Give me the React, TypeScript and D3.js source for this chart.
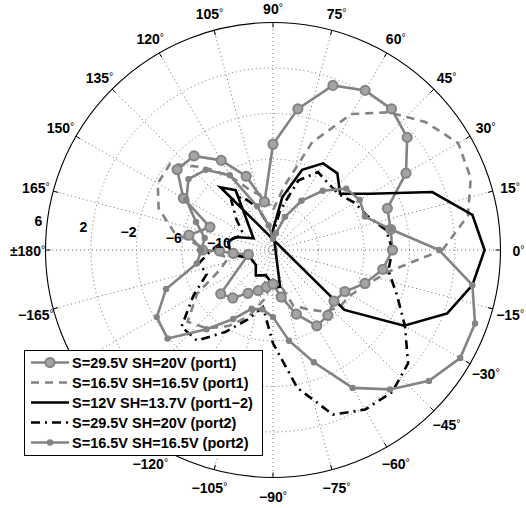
import React from "react";
import * as d3 from "d3";

// Canvas and polar frame
const W = 526;
const H = 508;
const CX = 273;
const CY = 250;
const R = 227.5;

// Radial axis (dB) — centre of the plot sits at -14 dB
const rDomain: [number, number] = [-14, 6];
const ringValues = [-10, -6, -2, 2, 6];
const ringLabels = ["−10", "−6", "−2", "2", "6"];

// Angular axis
const spokeAngles = [0, 15, 30, 45, 60, 75, 90, 105, 120, 135, 150, 165, 180, 195, 210, 225, 240, 255, 270, 285, 300, 315, 330, 345];
const spokeLabels = ["0", "15", "30", "45", "60", "75", "90", "105", "120", "135", "150", "165", "±180", "−165", "−150", "−135", "−120", "−105", "−90", "−75", "−60", "−45", "−30", "−15"];

// S=29.5V SH=20V (port1)
const s1Ang = [0, 10, 20, 30, 40, 50, 60, 70, 80, 90, 100, 110, 120, 130, 140, 150, 160, 170, 180, 181, 185, 190, 220, 230, 240, 250, 260, 270, 280, 290, 300, 310, 320, 330, 340, 350];
const s1Db = [-3.5, -3.5, -3.3, -0.5, 1.4, 2.2, 2.2, 1.4, -1.4, -4.7, -9.7, -7.1, -4.9, -3.2, -3.0, -4.9, -8.1, -6.5, -7.8, -9.3, -10.5, -11.8, -8.0, -8.5, -9.6, -10.2, -10.7, -11.0, -9.8, -8.0, -6.3, -6.5, -7.0, -6.7, -5.4, -4.2];

// S=16.5V SH=16.5V (port1)
const s2Ang = [0, 10, 20, 30, 40, 50, 60, 70, 80, 90, 100, 110, 120, 130, 140, 150, 160, 170, 180, 190, 200, 210, 220, 230, 240, 250, 260, 270, 280, 290, 300, 310, 320, 330, 340, 350];
const s2Db = [0.9, 3.4, 4.5, 4.8, 3.5, 1.8, -0.2, -3.9, -8.3, -10.5, -9.2, -8.5, -6.5, -4.5, -2.2, -2.3, -3.3, -5.2, -8.2, -10.0, -9.1, -6.3, -4.2, -5.0, -6.3, -7.8, -9.6, -11.4, -11.1, -8.8, -8.0, -6.9, -6.3, -6.1, -5.2, -3.5];

// S=12V SH=13.7V (port1-2)
const s3Ang = [0, 10, 20, 30, 40, 50, 60, 70, 80, 90, 284, 281, 273, 254, 236, 221, 199, 187, 170, 161, 149, 122, 130, 320, 330, 340, 350];
const s3Db = [4.6, 3.8, 0.9, -4.1, -6.3, -5.2, -5.2, -6.5, -9.3, -12.2, -12.2, -10.7, -10.7, -11.7, -11.3, -12.0, -11.9, -10.3, -10.0, -10.5, -12.0, -7.8, -6.8, -5.8, -0.7, 2.3, 3.8];

// S=29.5V SH=20V (port2)
const s4Ang = [0, 10, 20, 30, 40, 50, 60, 70, 80, 90, 100, 110, 120, 130, 140, 150, 160, 170, 180, 190, 200, 210, 220, 230, 240, 250, 260, 270, 280, 290, 300, 310, 320, 330, 340, 350];
const s4Db = [-3.5, -3.9, -5.2, -5.7, -6.4, -6.4, -6.1, -7.5, -10.5, -12.7, -11.8, -10.0, -8.6, -8.3, -9.8, -10.9, -10.7, -9.6, -8.6, -7.4, -7.8, -5.9, -3.5, -3.6, -5.7, -7.5, -8.9, -5.8, -1.7, 1.4, 2.2, 2.3, 1.5, -0.6, -2.4, -3.7];

// S=16.5V SH=16.5V (port2)
const s5Ang = [0, 10, 20, 30, 40, 50, 60, 70, 80, 90, 100, 110, 120, 130, 140, 150, 160, 170, 180, 190, 200, 210, 220, 230, 240, 250, 260, 270, 280, 290, 300, 310, 320, 330, 340, 350];
const s5Db = [0.6, -3.5, -5.4, -5.2, -5.6, -7.2, -9.0, -10.9, -12.5, -13.0, -11.8, -9.9, -6.4, -4.8, -4.3, -5.2, -6.8, -7.9, -7.7, -7.2, -4.0, -2.2, -1.9, -4.9, -7.0, -8.5, -8.7, -8.1, -5.9, -3.5, 0.0, 2.0, 3.9, 5.0, 4.9, 3.8];

const seriesNames = [
  "S=29.5V SH=20V (port1)",
  "S=16.5V SH=16.5V (port1)",
  "S=12V SH=13.7V (port1−2)",
  "S=29.5V SH=20V (port2)",
  "S=16.5V SH=16.5V (port2)",
];

const GRAY = "#838383";
const FONT = "Liberation Sans, Arial, sans-serif";

// Legend box (page pixels)
const LEG = { x: 24.5, y: 350.5, w: 238, h: 105 };

type Style = { color: string; dash?: string; marker?: "ring" | "dot" };
const styles: Style[] = [
  { color: GRAY, marker: "ring" },
  { color: GRAY, dash: "8,6" },
  { color: "#000" },
  { color: "#000", dash: "9,5,2,5" },
  { color: GRAY, marker: "dot" },
];

const seriesData: [number, number][][] = [
  s1Ang.map((a, i) => [a, s1Db[i]] as [number, number]),
  s2Ang.map((a, i) => [a, s2Db[i]] as [number, number]),
  s3Ang.map((a, i) => [a, s3Db[i]] as [number, number]),
  s4Ang.map((a, i) => [a, s4Db[i]] as [number, number]),
  s5Ang.map((a, i) => [a, s5Db[i]] as [number, number]),
];

const rScale = d3.scaleLinear().domain(rDomain).range([0, R]);
// math angle (deg, counter-clockwise from east) -> d3 radial angle (rad, clockwise from north)
const toRad = (deg: number) => ((90 - deg) * Math.PI) / 180;

const lineGen = d3
  .lineRadial<[number, number]>()
  .angle((d) => toRad(d[0]))
  .radius((d) => rScale(d[1]))
  .curve(d3.curveLinearClosed);

function Marker({ kind, x, y, color }: { kind: "ring" | "dot"; x: number; y: number; color: string }) {
  if (kind === "ring") {
    return <circle cx={x} cy={y} r={4.6} fill="#a4a4a4" stroke={color} strokeWidth={2} />;
  }
  return <circle cx={x} cy={y} r={3.2} fill={color} stroke="none" />;
}

// angle labels that sit beneath the legend box are covered by it
const underLegend = (x: number, y: number) =>
  x + CX > LEG.x - 10 && x + CX < LEG.x + LEG.w && y + CY > LEG.y - 4 && y + CY < LEG.y + LEG.h;

export default function App() {
  const dotted = { stroke: "#6e6e6e", strokeWidth: 1, strokeDasharray: "1,3", fill: "none" };
  const labelAngle = 173;
  return (
    <svg width={W} height={H} style={{ position: "absolute", left: 0, top: 0, background: "#fff" }} fontFamily={FONT} fontWeight="700">
      <g transform={`translate(${CX},${CY})`}>
        {/* rings */}
        {ringValues.slice(0, -1).map((v) => (
          <circle key={v} r={rScale(v)} {...dotted} />
        ))}
        {/* spokes */}
        {spokeAngles.map((a) => {
          const [x, y] = d3.pointRadial(toRad(a), R);
          return <line key={a} x1={0} y1={0} x2={x} y2={y} {...dotted} />;
        })}
        {/* outer frame */}
        <circle r={R} fill="none" stroke="#000" strokeWidth={1.1} />
        {spokeAngles.map((a) => {
          const [x1, y1] = d3.pointRadial(toRad(a), R);
          const [x2, y2] = d3.pointRadial(toRad(a), R - 5);
          return <line key={"t" + a} x1={x1} y1={y1} x2={x2} y2={y2} stroke="#000" strokeWidth={1} />;
        })}
        {/* angle labels (kept inside the canvas at the top edge) */}
        {spokeAngles.map((a, i) => {
          const [x, y0] = d3.pointRadial(toRad(a), 245.5);
          const y = Math.max(y0 + 1.2, -CY + 8.5);
          if (underLegend(x, y)) return null;
          return (
            <text key={"l" + a} x={x} y={y} textAnchor="middle" dominantBaseline="central" fontSize={14} fontWeight="700" fill="#000">
              {spokeLabels[i]}
              <tspan fontSize={10.5} fontWeight="400" dy={-2}>°</tspan>
            </text>
          );
        })}
        {/* series */}
        {seriesData.map((pts, i) => (
          <path
            key={"s" + i}
            d={lineGen(pts) || ""}
            fill="none"
            stroke={styles[i].color}
            strokeWidth={2.6}
            strokeDasharray={styles[i].dash}
            strokeLinejoin="miter"
          />
        ))}
        {seriesData.map((pts, i) =>
          styles[i].marker
            ? pts.map((d, j) => {
                const [x, y] = d3.pointRadial(toRad(d[0]), rScale(d[1]));
                return <Marker key={`m${i}-${j}`} kind={styles[i].marker!} x={x} y={y} color={styles[i].color} />;
              })
            : null
        )}
        {/* radial labels */}
        {ringValues.map((v, i) => {
          const [x, y] = d3.pointRadial(toRad(labelAngle), rScale(v) + 9);
          return (
            <text key={"r" + v} x={x} y={y} textAnchor="middle" dominantBaseline="central" fontSize={14} fontWeight="700" fill="#000">
              {ringLabels[i]}
            </text>
          );
        })}
      </g>
      {/* legend */}
      <g>
        <rect x={LEG.x} y={LEG.y} width={LEG.w} height={LEG.h} fill="#fff" stroke="#000" strokeWidth={1} />
        {seriesNames.map((name, i) => {
          const y = 362.5 + i * 20;
          const st = styles[i];
          return (
            <g key={"lg" + i}>
              <line x1={31} x2={69} y1={y} y2={y} stroke={st.color} strokeWidth={2.6} strokeDasharray={st.dash} />
              {st.marker ? <Marker kind={st.marker} x={50} y={y} color={st.color} /> : null}
              <text x={72} y={y} dominantBaseline="central" fontSize={14.5} fontWeight="700" fill="#000">
                {name}
              </text>
            </g>
          );
        })}
      </g>
    </svg>
  );
}
